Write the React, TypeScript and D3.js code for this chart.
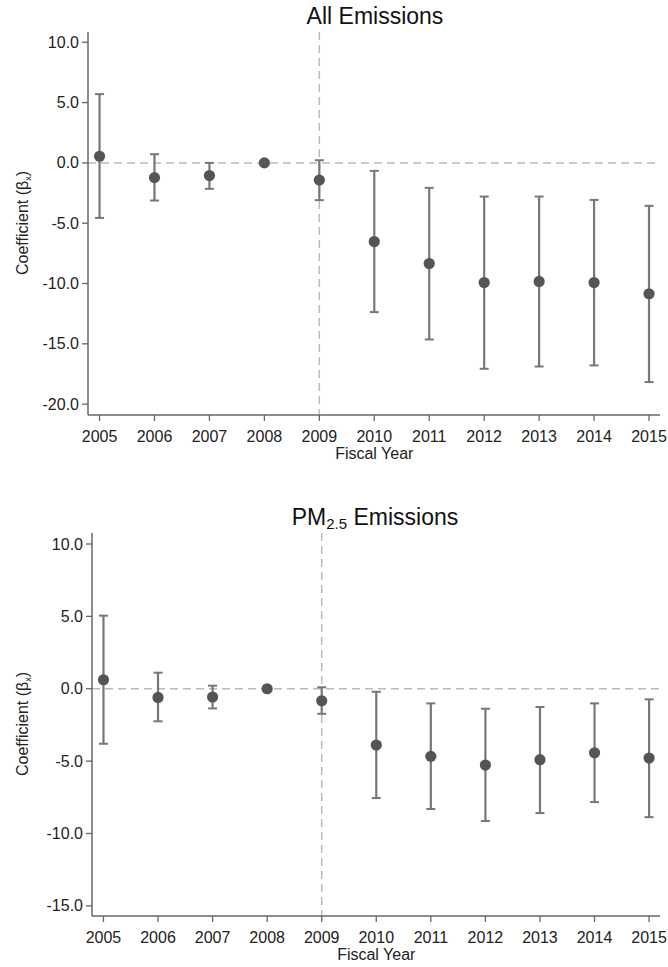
import React from "react";
import * as d3 from "d3";

const years = [2005, 2006, 2007, 2008, 2009, 2010, 2011, 2012, 2013, 2014, 2015];

const allCoef = [0.55, -1.22, -1.05, 0, -1.43, -6.52, -8.34, -9.92, -9.83, -9.92, -10.85];
const allLo = [-4.56, -3.12, -2.15, 0, -3.09, -12.37, -14.64, -17.07, -16.88, -16.79, -18.17];
const allHi = [5.7, 0.72, 0.0, 0, 0.22, -0.66, -2.07, -2.79, -2.79, -3.07, -3.56];
const allTicks = [10, 5, 0, -5, -10, -15, -20];

const pmCoef = [0.62, -0.6, -0.57, 0, -0.83, -3.89, -4.67, -5.27, -4.9, -4.42, -4.79];
const pmLo = [-3.8, -2.25, -1.36, 0, -1.73, -7.55, -8.31, -9.14, -8.59, -7.83, -8.87];
const pmHi = [5.05, 1.11, 0.21, 0, 0.1, -0.21, -1.01, -1.38, -1.26, -1.01, -0.73];
const pmTicks = [10, 5, 0, -5, -10, -15];

const treatYear = 2009;

const FONT = "'Liberation Sans', Arial, Helvetica, sans-serif";
const AXIS = "#666";
const BAR = "#777";
const DOT = "#555";
const REF = "#bbb";
const TEXT = "#222";

type PanelProps = {
  left: number;
  right: number;
  top: number;
  bottom: number;
  yMax: number;
  yMin: number;
  ticks: number[];
  coef: number[];
  lo: number[];
  hi: number[];
  title: React.ReactNode;
  titleY: number;
  ylabelY: number;
};

function Panel(p: PanelProps) {
  const x = d3.scaleLinear().domain([2004.79, 2015.2]).range([p.left, p.right]);
  const y = d3.scaleLinear().domain([p.yMin, p.yMax]).range([p.bottom, p.top]);
  const fmt = (v: number) => v.toFixed(1);
  return (
    <g>
      <line x1={p.left} x2={p.right} y1={y(0)} y2={y(0)} stroke={REF} strokeWidth={1.5} strokeDasharray="8,5" />
      <line x1={x(treatYear)} x2={x(treatYear)} y1={p.top} y2={p.bottom} stroke={REF} strokeWidth={1.5} strokeDasharray="8,5" />
      <line x1={p.left} x2={p.left} y1={p.top} y2={p.bottom} stroke={AXIS} strokeWidth={1.5} />
      <line x1={p.left} x2={p.right} y1={p.bottom} y2={p.bottom} stroke={AXIS} strokeWidth={1.5} />
      {p.ticks.map((t) => (
        <g key={"yt" + t}>
          <line x1={p.left - 6} x2={p.left} y1={y(t)} y2={y(t)} stroke={AXIS} strokeWidth={1.3} />
          <text x={p.left - 9} y={y(t)} dy="0.35em" textAnchor="end" fontSize={16} fill={TEXT} fontFamily={FONT}>
            {fmt(t)}
          </text>
        </g>
      ))}
      {years.map((yr) => (
        <g key={"xt" + yr}>
          <line x1={x(yr)} x2={x(yr)} y1={p.bottom} y2={p.bottom + 6} stroke={AXIS} strokeWidth={1.3} />
          <text x={x(yr)} y={p.bottom + 27} textAnchor="middle" fontSize={16} fill={TEXT} fontFamily={FONT}>
            {yr}
          </text>
        </g>
      ))}
      <text x={x(2010)} y={p.bottom + 44} textAnchor="middle" fontSize={16} fill={TEXT} fontFamily={FONT}>
        Fiscal Year
      </text>
      <text
        transform={`translate(28,${p.ylabelY}) rotate(-90)`}
        textAnchor="middle"
        fontSize={16}
        fill={TEXT}
        fontFamily={FONT}
      >
        Coefficient (β<tspan fontSize={9} dy={3}>x</tspan>
        <tspan dy={-3}>)</tspan>
      </text>
      <text x={375} y={p.titleY} textAnchor="middle" fontSize={23} fill="#111" fontFamily={FONT}>
        {p.title}
      </text>
      {years.map((yr, i) =>
        p.hi[i] !== p.lo[i] ? (
          <g key={"eb" + yr}>
            <line x1={x(yr)} x2={x(yr)} y1={y(p.hi[i])} y2={y(p.lo[i])} stroke={BAR} strokeWidth={2.2} />
            <line x1={x(yr) - 4.5} x2={x(yr) + 4.5} y1={y(p.hi[i])} y2={y(p.hi[i])} stroke={BAR} strokeWidth={2} />
            <line x1={x(yr) - 4.5} x2={x(yr) + 4.5} y1={y(p.lo[i])} y2={y(p.lo[i])} stroke={BAR} strokeWidth={2} />
          </g>
        ) : null
      )}
      {years.map((yr, i) => (
        <circle key={"pt" + yr} cx={x(yr)} cy={y(p.coef[i])} r={5.6} fill={DOT} />
      ))}
    </g>
  );
}

export default function App() {
  return (
    <svg
      width={668}
      height={967}
      style={{ position: "absolute", left: 0, top: 0, background: "#fff" }}
    >
      <rect x={0} y={0} width={668} height={967} fill="#fff" />
      <Panel
        left={88}
        right={660}
        top={32}
        bottom={415}
        yMax={10.85}
        yMin={-20.9}
        ticks={allTicks}
        coef={allCoef}
        lo={allLo}
        hi={allHi}
        title={"All Emissions"}
        titleY={24}
        ylabelY={223}
      />
      <Panel
        left={92}
        right={660}
        top={533}
        bottom={916}
        yMax={10.76}
        yMin={-15.7}
        ticks={pmTicks}
        coef={pmCoef}
        lo={pmLo}
        hi={pmHi}
        title={
          <>
            PM<tspan fontSize={15} dy={4}>2.5</tspan>
            <tspan dy={-4}> Emissions</tspan>
          </>
        }
        titleY={525}
        ylabelY={724}
      />
    </svg>
  );
}
